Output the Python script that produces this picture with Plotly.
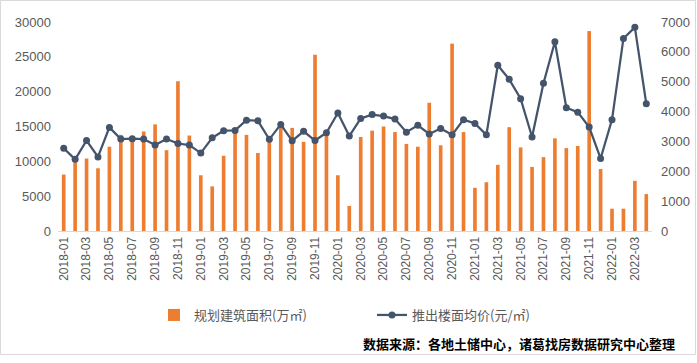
import plotly.graph_objects as go

months = [f"{y}-{m:02d}" for y in range(2018, 2023) for m in range(1, 13)][:52]

area = [8100, 9900, 10400, 9000, 12100, 13800, 13500, 14300, 15300, 11600, 21500, 13700,
        8000, 6400, 10800, 14200, 13800, 11200, 13100, 14900, 14800, 12800, 25300, 13800,
        8000, 3600, 13500, 14400, 15000, 14200, 12500, 12100, 18400, 12300, 26900, 14200,
        6200, 7000, 9500, 14900, 12000, 9200, 10600, 13300, 11900, 12200, 28700, 8900,
        3200, 3200, 7200, 5300]

price = [2770, 2400, 3030, 2480, 3470, 3080, 3090, 3080, 2880, 3080, 2930, 2880,
         2610, 3120, 3360, 3370, 3710, 3690, 3070, 3570, 3020, 3340, 3030, 3290,
         3950, 3180, 3770, 3900, 3850, 3750, 3310, 3540, 3250, 3430, 3220, 3730,
         3600, 3220, 5550, 5080, 4430, 3150, 4950, 6340, 4130, 3980, 3480, 2430,
         3730, 6450, 6820, 4260]

tick_labels = months[::2]
left_ticks = [0, 5000, 10000, 15000, 20000, 25000, 30000]
right_ticks = [0, 1000, 2000, 3000, 4000, 5000, 6000, 7000]

bar_name = "规划建筑面积(万㎡)"
line_name = "推出楼面均价(元/㎡)"
source_text = "数据来源：各地土储中心，诸葛找房数据研究中心整理"

W, H = 697, 363
L, R, T, B = 58, 652, 22, 231
pw, ph = R - L, B - T

def px(x):
    return (x - L) / pw

def py(y):
    return (B - y) / ph

font_num = "Liberation Sans, DejaVu Sans, sans-serif"
font_cjk = "Noto Sans CJK SC, sans-serif"

fig = go.Figure()
fig.add_trace(go.Bar(x=months, y=area, name=bar_name, marker=dict(color="#ED7D31", line=dict(width=0)),
                     yaxis="y"))
fig.add_trace(go.Scatter(x=months, y=price, name=line_name, mode="lines+markers",
                         line=dict(color="#44546A", width=2.25),
                         marker=dict(color="#44546A", size=7), yaxis="y2"))

fig.update_layout(
    width=W, height=H,
    margin=dict(l=L, r=W - R, t=T, b=H - B, pad=0, autoexpand=False),
    paper_bgcolor="white", plot_bgcolor="white",
    bargap=0.68,
    showlegend=True,
    legend=dict(orientation="h", x=px(154), y=py(300), xanchor="left", yanchor="top",
                font=dict(family=font_cjk, size=13, color="#595959"),
                itemwidth=30, entrywidth=173, entrywidthmode="pixels",
                bgcolor="rgba(0,0,0,0)"),
    xaxis=dict(type="category", tickmode="array", tickvals=tick_labels, ticktext=tick_labels,
               tickangle=-90, tickfont=dict(family=font_num, size=12, color="#595959"),
               showline=True, linecolor="#D9D9D9", linewidth=1, ticks="", showgrid=False,
               range=[-0.5, 51.5], automargin=False),
    yaxis=dict(range=[0, 30000], tickmode="array", tickvals=left_ticks,
               ticktext=[str(v) for v in left_ticks],
               tickfont=dict(family=font_num, size=13, color="#595959"),
               showgrid=False, zeroline=False, showline=False, ticks="", ticklabelstandoff=6,
               automargin=False),
    yaxis2=dict(range=[0, 7000], tickmode="array", tickvals=right_ticks,
                ticktext=[str(v) for v in right_ticks], overlaying="y", side="right",
                tickfont=dict(family=font_num, size=13, color="#595959"),
                showgrid=False, zeroline=False, showline=False, ticks="", ticklabelstandoff=8,
                automargin=False),
    annotations=[dict(text=source_text, xref="paper", yref="paper", x=px(677), y=py(343),
                      xanchor="right", yanchor="middle", showarrow=False,
                      font=dict(family=font_cjk, size=13, color="#000000", weight="bold"))],
    shapes=[dict(type="rect", xref="paper", yref="paper", x0=px(0.5), x1=px(695.5),
                 y0=py(354.5), y1=py(0.5), line=dict(color="#D9D9D9", width=1), layer="below")],
)

fig.write_html("out.html", post_script="document.body.style.margin='0';",
               config={"displayModeBar": False})
